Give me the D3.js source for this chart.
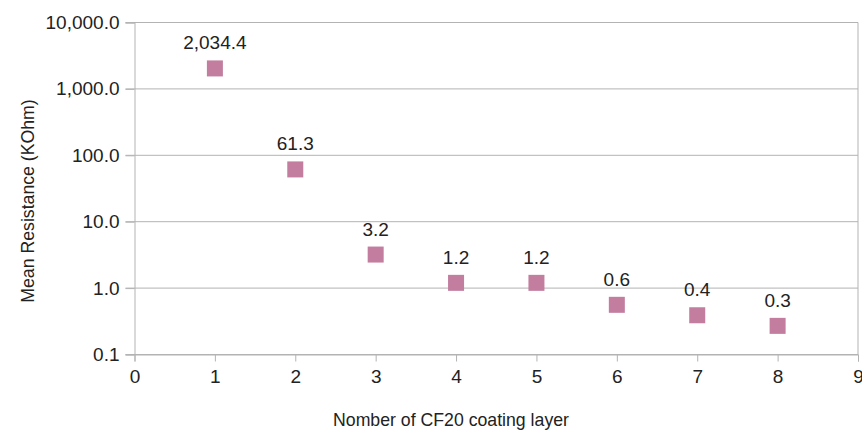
<!DOCTYPE html>
<html>
<head>
<meta charset="utf-8">
<script src="https://cdn.jsdelivr.net/npm/d3@7"></script>
<style>
  body { margin: 0; background: #fff; }
  text { font-family: "Liberation Sans", Arial, sans-serif; fill: #222; }
</style>
</head>
<body>
<svg id="chart" width="862" height="430"></svg>
<script>
const layers = [1, 2, 3, 4, 5, 6, 7, 8];
const resistance = [2034.4, 61.3, 3.2, 1.2, 1.2, 0.56, 0.39, 0.27];
const yTicks = [0.1, 1, 10, 100, 1000, 10000];
const xTicks = [0, 1, 2, 3, 4, 5, 6, 7, 8, 9];

const svg = d3.select("#chart");
const margin = {top: 22.5, right: 4, bottom: 75.5, left: 134.5};
const width = 862 - margin.left - margin.right;
const height = 430 - margin.top - margin.bottom;

const g = svg.append("g").attr("transform", `translate(${margin.left},${margin.top})`);

const x = d3.scaleLinear().domain([0, 9]).range([0, width]);
const y = d3.scaleLog().domain([0.1, 10000]).range([height, 0]);
const fmt = d3.format(",.1f");

// horizontal grid
g.append("g")
  .selectAll("line")
  .data(yTicks)
  .join("line")
    .attr("x1", -9).attr("x2", width)
    .attr("y1", d => y(d)).attr("y2", d => y(d))
    .attr("stroke", "#b3b3b3").attr("stroke-width", 1);

// y axis
const yAxis = g.append("g")
  .call(d3.axisLeft(y).tickValues(yTicks).tickFormat(fmt).tickSize(9).tickPadding(6));
yAxis.select(".domain").attr("stroke", "#b3b3b3");
yAxis.selectAll(".tick line").attr("stroke", "#b3b3b3");
yAxis.selectAll("text").style("font-size", "19px").attr("fill", "#222");

// x axis
const xAxis = g.append("g")
  .attr("transform", `translate(0,${height})`)
  .call(d3.axisBottom(x).tickValues(xTicks).tickFormat(d3.format("d")).tickSize(7).tickPadding(8));
xAxis.select(".domain").attr("stroke", "#b3b3b3");
xAxis.selectAll(".tick line").attr("stroke", "#b3b3b3");
xAxis.selectAll("text").style("font-size", "19px").attr("fill", "#222");

// right border
g.append("line")
  .attr("x1", width).attr("x2", width)
  .attr("y1", 0).attr("y2", height)
  .attr("stroke", "#b3b3b3");

const pts = layers.map((l, i) => ({l, v: resistance[i]}));

// markers
g.append("g")
  .selectAll("rect")
  .data(pts)
  .join("rect")
    .attr("x", d => x(d.l) - 8)
    .attr("y", d => y(d.v) - 8)
    .attr("width", 16).attr("height", 16)
    .attr("fill", "#c27d9f");

// value labels
g.append("g")
  .selectAll("text")
  .data(pts)
  .join("text")
    .attr("x", d => x(d.l))
    .attr("y", d => y(d.v) - 19)
    .attr("text-anchor", "middle")
    .style("font-size", "19px")
    .text(d => fmt(d.v));

// axis titles
svg.append("text")
  .attr("x", 451)
  .attr("y", 426)
  .attr("text-anchor", "middle")
  .style("font-size", "17.7px")
  .text("Nomber of CF20 coating layer");

svg.append("text")
  .attr("transform", `translate(34,201) rotate(-90)`)
  .attr("text-anchor", "middle")
  .style("font-size", "17.7px")
  .text("Mean Resistance (KOhm)");
</script>
</body>
</html>
